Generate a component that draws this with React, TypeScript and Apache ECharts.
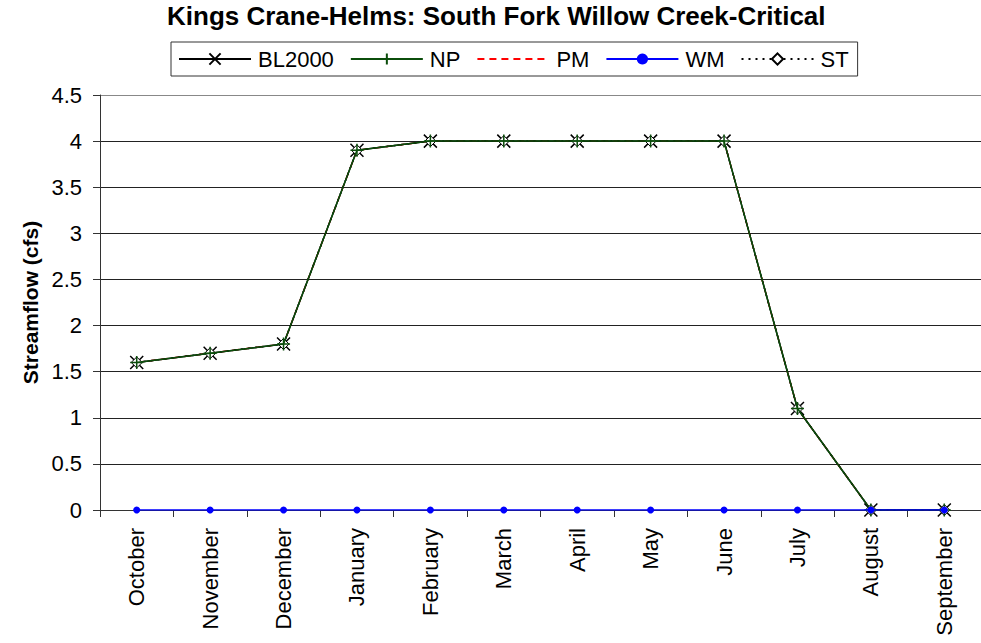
import React, { useEffect, useRef } from "react";
import * as echarts from "echarts";

const months = ["October","November","December","January","February","March","April","May","June","July","August","September"];
const bl2000 = [1.6, 1.7, 1.8, 3.9, 4, 4, 4, 4, 4, 1.1, 0, 0];
const np = [1.6, 1.7, 1.8, 3.9, 4, 4, 4, 4, 4, 1.1, 0, 0];
const pm = [1.6, 1.7, 1.8, 3.9, 4, 4, 4, 4, 4, 1.1, 0, 0];
const wm = [0, 0, 0, 0, 0, 0, 0, 0, 0, 0, 0, 0];
const st = [1.6, 1.7, 1.8, 3.9, 4, 4, 4, 4, 4, 1.1, 0, 0];

const FONT = "'Liberation Sans', Arial, sans-serif";
const X_SYMBOL = "path://M0,0L10,10M10,0L0,10";
const PLUS_SYMBOL = "path://M5,0L5,10M0,5L10,5";

export default function App() {
  const ref = useRef<HTMLDivElement>(null);
  useEffect(() => {
    const chart = echarts.init(ref.current!, null, { renderer: "svg" });
    const splitColors = ["#222", "#222", "#222", "#222", "#222", "#222", "#222", "#222", "#222", "#888"];
    chart.setOption({
      animation: false,
      backgroundColor: "#fff",
      textStyle: { fontFamily: FONT },
      title: {
        text: "Kings Crane-Helms: South Fork Willow Creek-Critical",
        left: 167,
        top: 3,
        padding: 0,
        textStyle: { fontFamily: FONT, fontSize: 26, fontWeight: "bold", color: "#000" },
      },
      legend: {
        top: 42,
        left: 171,
        itemWidth: 72,
        itemHeight: 14,
        itemGap: 16,
        borderColor: "#333",
        borderWidth: 1,
        padding: [6, 9, 6, 7],
        textStyle: { fontFamily: FONT, fontSize: 22, color: "#000", padding: [0, 0, 0, 2] },
        data: [
          "BL2000",
          "NP",
          { name: "PM", itemStyle: { opacity: 0 } },
          "WM",
          "ST",
        ],
      },
      grid: { left: 100, top: 95, width: 888, height: 415 },
      xAxis: {
        type: "category",
        data: months,
        boundaryGap: true,
        axisLine: { lineStyle: { color: "#333", width: 1 } },
        axisTick: { show: true, length: 7, lineStyle: { color: "#333" } },
        axisLabel: { rotate: 90, fontSize: 22, color: "#000", margin: 18, fontFamily: FONT, interval: 0 },
        splitLine: { show: false },
      },
      yAxis: {
        type: "value",
        min: 0,
        max: 4.5,
        interval: 0.5,
        name: "Streamflow (cfs)",
        nameLocation: "middle",
        nameGap: 58,
        nameTextStyle: { fontFamily: FONT, fontSize: 21, fontWeight: "bold", color: "#000" },
        axisLine: { show: true, lineStyle: { color: "#333", width: 1 } },
        axisTick: { show: true, length: 7, lineStyle: { color: "#333" } },
        axisLabel: { fontSize: 22, color: "#000", margin: 18, fontFamily: FONT },
        splitLine: { show: true, lineStyle: { color: splitColors, width: 1 } },
      },
      series: [
        {
          name: "BL2000",
          type: "line",
          data: bl2000,
          symbol: X_SYMBOL,
          symbolSize: 13,
          lineStyle: { color: "#000", width: 1.5 },
          itemStyle: { color: "none", borderColor: "#000", borderWidth: 1.5 },
          z: 3,
        },
        {
          name: "NP",
          type: "line",
          data: np,
          symbol: PLUS_SYMBOL,
          symbolSize: 13,
          lineStyle: { color: "#0b4d0b", width: 1.5 },
          itemStyle: { color: "none", borderColor: "#0b4d0b", borderWidth: 1.5 },
          z: 4,
        },
        {
          name: "PM",
          type: "line",
          data: pm,
          symbol: "none",
          lineStyle: { color: "#ff0000", width: 1.5, type: [7, 5] },
          itemStyle: { color: "#ff0000" },
          z: 2,
        },
        {
          name: "WM",
          type: "line",
          data: wm,
          symbol: "circle",
          symbolSize: 7,
          lineStyle: { color: "#0000ff", width: 1.5 },
          itemStyle: { color: "#0000ff", borderWidth: 0 },
          z: 5,
        },
        {
          name: "ST",
          type: "line",
          data: st,
          symbol: "diamond",
          symbolSize: 11,
          lineStyle: { color: "#000", width: 1.5, type: [2, 5] },
          itemStyle: { color: "#fff", borderColor: "#000", borderWidth: 1 },
          z: 3,
        },
      ],
    });
    return () => chart.dispose();
  }, []);
  return (
    <div
      ref={ref}
      style={{ position: "fixed", left: 0, top: 0, width: 981, height: 643 }}
    />
  );
}
